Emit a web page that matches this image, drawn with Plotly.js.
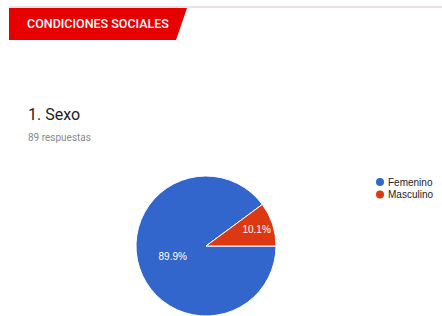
<!DOCTYPE html>
<html>
<head>
<meta charset="utf-8">
<script src="https://cdn.plot.ly/plotly-3.0.1.min.js"></script>
<style>html,body{margin:0;padding:0;background:#fff;}#chart{width:442px;height:316px;}</style>
</head>
<body>
<div id="chart"></div>
<script>
const categories = ["Femenino", "Masculino"];
const counts = [80, 9];
const colors = ["#3366cc", "#dc3912"];
const sectionTitle = "CONDICIONES SOCIALES";
const questionTitle = "1. Sexo";
const responsesLabel = "89 respuestas";

const W = 442, H = 316;
const px = x => x / W;
const py = y => 1 - y / H;
const ARIAL = "Arial, 'Liberation Sans', sans-serif";
const ROBOTO = "Roboto, Arial, sans-serif";

const pie = {
  type: "pie",
  labels: categories,
  values: counts,
  sort: false,
  direction: "counterclockwise",
  rotation: 90,
  marker: {colors: colors, line: {color: "#ffffff", width: 1}},
  texttemplate: "%{percent:.1%}",
  textposition: "inside",
  insidetextorientation: "horizontal",
  textfont: {color: "#ffffff", size: 10, family: ARIAL},
  domain: {x: [px(136), px(276)], y: [0, 140 / H]},
  showlegend: false,
  hoverinfo: "label+percent"
};

// legend drawn next to the pie, one row per category
const legendX = 380, legendY0 = 182, legendStep = 12.5, dotR = 4;
const legendShapes = categories.map((c, i) => ({
  type: "circle", xref: "paper", yref: "paper",
  x0: px(legendX - dotR), x1: px(legendX + dotR),
  y0: py(legendY0 + i * legendStep - dotR), y1: py(legendY0 + i * legendStep + dotR),
  fillcolor: colors[i], line: {width: 0}
}));
const legendLabels = categories.map((c, i) => ({
  text: c, xref: "paper", yref: "paper",
  x: px(legendX + 6), y: py(legendY0 + i * legendStep),
  xanchor: "left", yanchor: "middle", showarrow: false,
  font: {size: 10, color: "#222222", family: ARIAL}
}));

const redPath = `M ${px(9)} ${py(8)} L ${px(187)} ${py(8)} L ${px(176)} ${py(40)} L ${px(9)} ${py(40)} Z`;

const layout = {
  width: W, height: H,
  margin: {l: 0, r: 0, t: 0, b: 0, autoexpand: false},
  paper_bgcolor: "#ffffff",
  plot_bgcolor: "#ffffff",
  font: {family: ROBOTO},
  showlegend: false,
  shapes: [
    {type: "line", xref: "paper", yref: "paper", x0: px(9), x1: 1, y0: py(7), y1: py(7),
     line: {color: "#e3d8d8", width: 1.5}},
    {type: "path", xref: "paper", yref: "paper", path: redPath,
     fillcolor: "#e60000", line: {width: 0}},
    ...legendShapes
  ],
  annotations: [
    {text: sectionTitle, xref: "paper", yref: "paper", x: px(25), y: py(24),
     xanchor: "left", yanchor: "middle", showarrow: false,
     font: {size: 12.5, color: "#ffffff", family: ROBOTO, weight: 500}},
    {text: questionTitle, xref: "paper", yref: "paper", x: px(26), y: py(115),
     xanchor: "left", yanchor: "middle", showarrow: false,
     font: {size: 16, color: "#212121", family: ROBOTO}},
    {text: responsesLabel, xref: "paper", yref: "paper", x: px(26), y: py(137),
     xanchor: "left", yanchor: "middle", showarrow: false,
     font: {size: 10, color: "#8a8a8a", family: ROBOTO}},
    ...legendLabels
  ]
};

Plotly.newPlot("chart", [pie], layout, {displayModeBar: false, staticPlot: true});
</script>
</body>
</html>
